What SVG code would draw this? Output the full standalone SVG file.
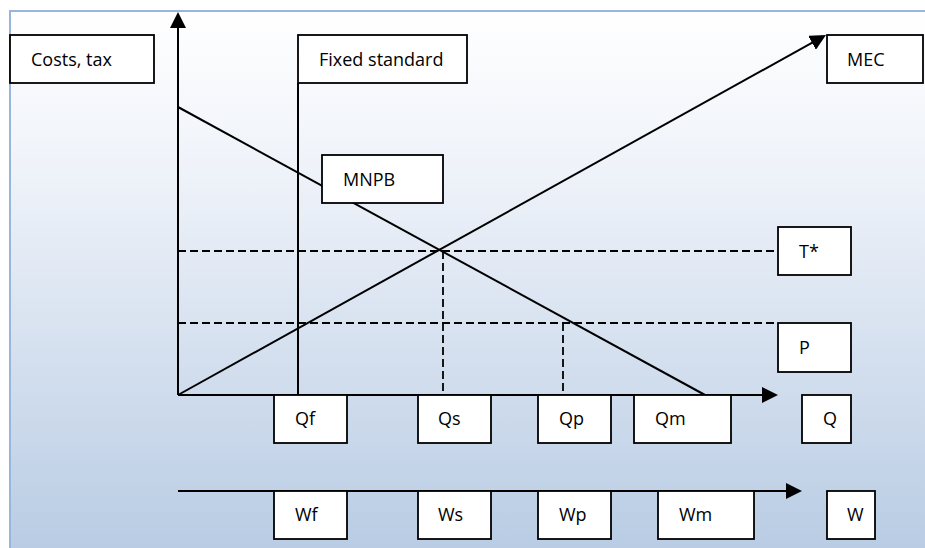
<svg xmlns="http://www.w3.org/2000/svg" width="925" height="548" viewBox="0 0 925 548">
<style>
.box{fill:#fff;stroke:#000;stroke-width:1.8}
.lbl{font-family:"Open Sans","Liberation Sans",sans-serif;font-size:18px;fill:#000}
.ln{stroke:#000;stroke-width:2;fill:none}
.dash{stroke:#000;stroke-width:1.8;fill:none;stroke-dasharray:8 4}
</style>
<defs>
<linearGradient id="bg" x1="0" y1="0" x2="0" y2="1">
<stop offset="0" stop-color="#ffffff"/>
<stop offset="0.3" stop-color="#eef2f9"/>
<stop offset="1" stop-color="#b7cbe3"/>
</linearGradient>
<marker id="arr" viewBox="0 0 16 16" refX="8" refY="8" markerWidth="16" markerHeight="16" markerUnits="userSpaceOnUse" orient="auto">
<path d="M0,0 L16,8 L0,16 Z" fill="#000"/>
</marker>
</defs>
<rect x="10" y="11" width="930" height="550" fill="url(#bg)" stroke="#98b6dc" stroke-width="2"/>
<g id="connectors">
<line class="ln" x1="178" y1="395" x2="178" y2="20" marker-end="url(#arr)"/>
<line class="ln" x1="178" y1="395" x2="770" y2="395" marker-end="url(#arr)"/>
<line class="ln" x1="178" y1="491" x2="794" y2="491" marker-end="url(#arr)"/>
<line class="ln" x1="178" y1="395" x2="819" y2="38.9" marker-end="url(#arr)"/>
<line class="ln" x1="178" y1="107" x2="705" y2="395"/>
<line class="ln" x1="298" y1="83" x2="298" y2="395"/>
<line class="dash" x1="178" y1="251" x2="778" y2="251"/>
<line class="dash" x1="178" y1="323" x2="778" y2="323"/>
<line class="dash" x1="443" y1="251" x2="443" y2="395"/>
<line class="dash" x1="563" y1="323" x2="563" y2="395"/>
</g>
<g id="costs"><rect class="box" x="10" y="35" width="144" height="48"/><text class="lbl" x="31" y="66">Costs, tax</text></g>
<g id="fixed"><rect class="box" x="298" y="35" width="169" height="48"/><text class="lbl" x="319" y="66">Fixed standard</text></g>
<g id="mec"><rect class="box" x="827" y="35" width="96" height="48"/><text class="lbl" x="847" y="66">MEC</text></g>
<g id="mnpb"><rect class="box" x="322" y="155" width="121" height="48"/><text class="lbl" x="343" y="186">MNPB</text></g>
<g id="tstar"><rect class="box" x="778" y="227" width="73" height="48"/><text class="lbl" x="799" y="258">T*</text></g>
<g id="p"><rect class="box" x="778" y="323" width="73" height="49"/><text class="lbl" x="799" y="354">P</text></g>
<g id="qf"><rect class="box" x="274" y="395" width="73" height="48"/><text class="lbl" x="295" y="425">Qf</text></g>
<g id="qs"><rect class="box" x="418" y="395" width="73" height="48"/><text class="lbl" x="438" y="425">Qs</text></g>
<g id="qp"><rect class="box" x="538" y="395" width="73" height="48"/><text class="lbl" x="559" y="425">Qp</text></g>
<g id="qm"><rect class="box" x="634" y="395" width="97" height="48"/><text class="lbl" x="655" y="425">Qm</text></g>
<g id="q"><rect class="box" x="802" y="395" width="49" height="48"/><text class="lbl" x="823" y="425">Q</text></g>
<g id="wf"><rect class="box" x="274" y="491" width="73" height="48"/><text class="lbl" x="295" y="521">Wf</text></g>
<g id="ws"><rect class="box" x="418" y="491" width="73" height="48"/><text class="lbl" x="438" y="521">Ws</text></g>
<g id="wp"><rect class="box" x="538" y="491" width="73" height="48"/><text class="lbl" x="559" y="521">Wp</text></g>
<g id="wm"><rect class="box" x="658" y="491" width="96" height="48"/><text class="lbl" x="679" y="521">Wm</text></g>
<g id="w"><rect class="box" x="827" y="491" width="48" height="48"/><text class="lbl" x="847" y="521">W</text></g>
</svg>
